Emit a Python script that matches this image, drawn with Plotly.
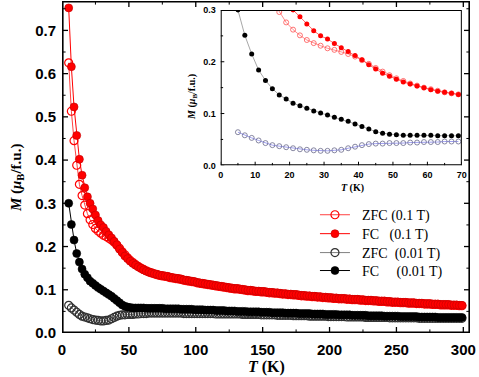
import plotly.graph_objects as go

# measurement temperatures (K)
T = [5, 7, 9, 11, 13, 15, 17, 19, 21, 23,
     25, 27, 29, 31, 33, 35, 37, 39, 41, 43,
     45, 47, 49, 51, 53, 55, 57, 59, 61, 63,
     65, 67, 69, 71, 73, 75, 77, 79, 81, 83,
     85, 87, 89, 91, 93, 95, 97, 99, 101, 103,
     105, 107, 109, 111, 113, 115, 117, 119, 121, 123,
     125, 127, 129, 131, 133, 135, 137, 139, 141, 143,
     145, 147, 149, 151, 153, 155, 157, 159, 161, 163,
     165, 167, 169, 171, 173, 175, 177, 179, 181, 183,
     185, 187, 189, 191, 193, 195, 197, 199, 201, 203,
     205, 207, 209, 211, 213, 215, 217, 219, 221, 223,
     225, 227, 229, 231, 233, 235, 237, 239, 241, 243,
     245, 247, 249, 251, 253, 255, 257, 259, 261, 263,
     265, 267, 269, 271, 273, 275, 277, 279, 281, 283,
     285, 287, 289, 291, 293, 295, 297, 299]

zfc_01 = [.625, .513, .445, .388, .344, .318, .296, .276, .262, .251,
          .242, .236, .231, .226, .223, .219, .215, .210, .203, .196,
          .188, .181, .174, .168, .163, .158, .154, .150, .147, .144,
          .141, .139, .137, .135, .133, .132, .131, .130, .128, .127,
          .126, .125, .124, .122, .121, .120, .119, .118, .116, .115,
          .114, .113, .112, .111, .110, .109, .108, .107, .106, .105,
          .104, .103, .102, .102, .101, .100, .099, .098, .098, .097,
          .096, .096, .095, .095, .094, .093, .093, .092, .092, .091,
          .090, .090, .089, .089, .088, .088, .087, .086, .086, .085,
          .085, .084, .084, .083, .083, .082, .082, .081, .081, .080,
          .080, .079, .079, .079, .078, .078, .077, .077, .077, .076,
          .076, .075, .075, .075, .074, .074, .073, .073, .073, .072,
          .072, .071, .071, .071, .070, .070, .070, .069, .069, .069,
          .068, .068, .068, .067, .067, .067, .066, .066, .066, .065,
          .065, .065, .065, .064, .064, .064, .063, .063]

fc_01 = [.752, .616, .523, .457, .402, .365, .336, .315, .300, .287,
         .273, .260, .250, .244, .235, .227, .220, .212, .204, .194,
         .186, .178, .172, .166, .161, .157, .153, .150, .146, .143,
         .141, .139, .137, .136, .134, .133, .132, .131, .129, .128,
         .127, .126, .125, .123, .122, .121, .120, .119, .117, .116,
         .115, .114, .113, .112, .111, .110, .109, .108, .107, .106,
         .105, .104, .103, .103, .102, .101, .100, .099, .099, .098,
         .097, .097, .096, .096, .095, .094, .094, .093, .093, .092,
         .091, .091, .090, .090, .089, .089, .088, .087, .087, .086,
         .086, .085, .085, .084, .084, .083, .083, .082, .082, .081,
         .081, .080, .080, .080, .079, .079, .078, .078, .078, .077,
         .077, .076, .076, .076, .075, .075, .074, .074, .074, .073,
         .073, .072, .072, .072, .071, .071, .071, .070, .070, .070,
         .069, .069, .069, .068, .068, .068, .067, .067, .067, .066,
         .066, .066, .066, .065, .065, .065, .064, .064]

zfc_001 = [.064, .058, .053, .048, .043, .039, .037, .035, .033, .031,
           .030, .029, .028, .028, .029, .030, .033, .036, .039, .041,
           .042, .042, .043, .043, .043, .044, .044, .045, .045, .045,
           .046, .046, .046, .046, .046, .046, .046, .046, .046, .046,
           .046, .046, .046, .045, .045, .045, .045, .045, .045, .045,
           .045, .045, .045, .045, .045, .044, .044, .044, .044, .044,
           .044, .044, .044, .044, .044, .043, .043, .043, .043, .043,
           .043, .043, .042, .042, .042, .042, .042, .042, .041, .041,
           .041, .041, .041, .041, .040, .040, .040, .040, .040, .040,
           .039, .039, .039, .039, .039, .039, .039, .038, .038, .038,
           .038, .038, .038, .038, .037, .037, .037, .037, .037, .037,
           .037, .036, .036, .036, .036, .036, .036, .036, .036, .036,
           .035, .035, .035, .035, .035, .035, .035, .035, .035, .035,
           .035, .034, .034, .034, .034, .034, .034, .034, .034, .034,
           .034, .034, .034, .034, .034, .034, .034, .034]

fc_001 = [.300, .251, .215, .184, .164, .148, .136, .128, .120, .115,
          .110, .105, .101, .097, .093, .089, .085, .080, .075, .070,
          .065, .062, .060, .059, .058, .058, .058, .058, .058, .057,
          .057, .057, .057, .057, .057, .057, .056, .056, .056, .056,
          .056, .056, .055, .055, .055, .055, .055, .054, .054, .054,
          .054, .053, .053, .053, .053, .052, .052, .052, .052, .051,
          .051, .051, .051, .050, .050, .050, .050, .049, .049, .049,
          .049, .049, .048, .048, .048, .048, .047, .047, .047, .047,
          .047, .046, .046, .046, .046, .046, .045, .045, .045, .045,
          .045, .044, .044, .044, .044, .044, .043, .043, .043, .043,
          .043, .042, .042, .042, .042, .042, .041, .041, .041, .041,
          .041, .041, .040, .040, .040, .040, .040, .040, .039, .039,
          .039, .039, .039, .039, .038, .038, .038, .038, .038, .038,
          .038, .037, .037, .037, .037, .037, .037, .037, .036, .036,
          .036, .036, .036, .036, .036, .036, .036, .036]

names = ["\u00a0\u00a0ZFC (0.1 T)", "\u00a0\u00a0FC\u00a0\u00a0\u00a0(0.1 T)",
         "\u00a0\u00a0ZFC\u00a0\u00a0(0.01 T)", "\u00a0\u00a0FC\u00a0\u00a0\u00a0\u00a0\u00a0(0.01 T)"]

# axis ranges and tick positions (major / minor)
main_xr, main_yr = [0, 305], [0, 0.768]
ins_xr, ins_yr = [0, 70], [0, 0.3]
main_xticks = [0, 50, 100, 150, 200, 250, 300]
main_xminor = [25, 75, 125, 175, 225, 275]
main_yticks = [0.0, 0.1, 0.2, 0.3, 0.4, 0.5, 0.6, 0.7]
main_yminor = [0.05, 0.15, 0.25, 0.35, 0.45, 0.55, 0.65, 0.75]
ins_xticks = [0, 10, 20, 30, 40, 50, 60, 70]
ins_xminor = [5, 15, 25, 35, 45, 55, 65]
ins_yticks = [0.0, 0.1, 0.2, 0.3]
ins_yminor = [0.05, 0.15, 0.25]

SERIF = "Liberation Serif"
SANS = "Liberation Sans"

fig = go.Figure()

# main panel, one legend per entry so the rows sit where the reference has them
styles = [
    (zfc_01, "#ff4040", dict(symbol="circle-open", color="#ff0000", size=8, line=dict(width=1.2))),
    (fc_01, "#ff0000", dict(symbol="circle", color="#ff0000", size=8, line=dict(width=0.6, color="#c00000"))),
    (zfc_001, "#808080", dict(symbol="circle-open", color="#303030", size=8, line=dict(width=1.2))),
    (fc_001, "#000000", dict(symbol="circle", color="#000000", size=8, line=dict(width=0.6, color="#000000"))),
]
leg_ids = ["legend", "legend2", "legend3", "legend4"]
for (vals, lc, mk), nm, lg in zip(styles, names, leg_ids):
    fig.add_trace(go.Scatter(x=T, y=vals, name=nm, mode="lines+markers", legend=lg,
                             line=dict(color=lc, width=1), marker=mk))

# inset (T <= 70 K)
n = 33
inset = [
    (zfc_01, "#ff7070", dict(symbol="circle-open", color="#ff5050", size=5, line=dict(width=0.8))),
    (fc_01, "#ff4040", dict(symbol="circle", color="#ff0000", size=5)),
    (zfc_001, "#8888ee", dict(symbol="circle-open", color="#6a6a8a", size=5, line=dict(width=0.8))),
    (fc_001, "#909090", dict(symbol="circle", color="#000000", size=5)),
]
for vals, lc, mk in inset:
    fig.add_trace(go.Scatter(x=T[:n], y=vals[:n], mode="lines+markers", showlegend=False,
                             xaxis="x2", yaxis="y2",
                             line=dict(color=lc, width=0.8), marker=mk))


# frame and tick marks drawn as clipped traces (axis lines do not show in the renderer)
def tick_marks(xs, ys, sym, size, w, xa="x", ya="y"):
    fig.add_trace(go.Scatter(x=xs, y=ys, mode="markers", showlegend=False, hoverinfo="skip",
                             xaxis=xa, yaxis=ya,
                             marker=dict(symbol=sym, size=size,
                                         line=dict(color="black", width=w))))


def frame(xr, yr, w, xa="x", ya="y"):
    fig.add_trace(go.Scatter(x=[xr[0], xr[1], xr[1], xr[0], xr[0]],
                             y=[yr[0], yr[0], yr[1], yr[1], yr[0]],
                             mode="lines", showlegend=False, hoverinfo="skip",
                             xaxis=xa, yaxis=ya, line=dict(color="black", width=w)))


px_x = (main_xr[1] - main_xr[0]) / 408
px_y = (main_yr[1] - main_yr[0]) / 332
for vals, L, w in [(main_xticks, 5, 1.3), (main_xminor, 3, 1)]:
    tick_marks(vals, [main_yr[0] + L / 2 * px_y] * len(vals), "line-ns", L, w)
    tick_marks(vals, [main_yr[1] - L / 2 * px_y] * len(vals), "line-ns", L, w)
for vals, L, w in [(main_yticks, 5, 1.3), (main_yminor, 3, 1)]:
    tick_marks([main_xr[0] + L / 2 * px_x] * len(vals), vals, "line-ew", L, w)
    tick_marks([main_xr[1] - L / 2 * px_x] * len(vals), vals, "line-ew", L, w)
frame(main_xr, main_yr, 3.2)

ipx_x = (ins_xr[1] - ins_xr[0]) / 241
ipx_y = (ins_yr[1] - ins_yr[0]) / 155
for vals, L in [(ins_xticks, 3), (ins_xminor, 2)]:
    tick_marks(vals, [ins_yr[0] + L / 2 * ipx_y] * len(vals), "line-ns", L, 1, "x2", "y2")
for vals, L in [(ins_yticks, 3), (ins_yminor, 2)]:
    tick_marks([ins_xr[0] + L / 2 * ipx_x] * len(vals), vals, "line-ew", L, 1, "x2", "y2")
frame(ins_xr, ins_yr, 2, "x2", "y2")

ax_common = dict(showline=False, showgrid=False, zeroline=False, automargin=False, ticks="")

fig.update_layout(
    template="simple_white",
    width=479, height=377,
    margin=dict(l=62, r=9, t=1, b=44),
    paper_bgcolor="white", plot_bgcolor="white",
    xaxis=dict(range=main_xr, tickvals=main_xticks, ticklabelstandoff=6,
               tickfont=dict(family=SANS, size=15, color="black", weight="bold"), **ax_common),
    yaxis=dict(range=main_yr, tickvals=main_yticks, tickformat=".1f", ticklabelstandoff=5,
               tickfont=dict(family=SANS, size=15, color="black", weight="bold"), **ax_common),
    xaxis2=dict(domain=[0.389, 0.980], anchor="y2", range=ins_xr, tickvals=ins_xticks,
                ticklabelstandoff=3,
                tickfont=dict(family=SANS, size=9, color="black", weight="bold"), **ax_common),
    yaxis2=dict(domain=[0.505, 0.973], anchor="x2", range=ins_yr, tickvals=ins_yticks,
                tickformat=".1f", ticklabelstandoff=4,
                tickfont=dict(family=SANS, size=9, color="black", weight="bold"), **ax_common),
    showlegend=True,
)

leg_font = dict(family=SERIF, size=14, color="black")
for lg, yc in zip(leg_ids, [0.355, 0.298, 0.241, 0.187]):
    fig.update_layout({lg: dict(x=0.620, y=yc, xanchor="left", yanchor="middle",
                                bgcolor="rgba(0,0,0,0)", borderwidth=0, font=leg_font)})

title_font = dict(family=SERIF, size=15, color="black", weight="bold")
fig.add_annotation(text="<i>M</i> (<i>μ</i><sub>B</sub>/f.u.)", xref="paper", yref="paper",
                   x=-0.110, y=0.467, xanchor="center", yanchor="middle",
                   textangle=-90, showarrow=False, font=title_font)
fig.add_annotation(text="<i>T</i> (K)", xref="paper", yref="paper",
                   x=0.5, y=-0.102, xanchor="center", yanchor="middle",
                   showarrow=False, font=dict(family=SERIF, size=16, color="black", weight="bold"))

inset_font = dict(family=SERIF, size=10, color="black", weight="bold")
fig.add_annotation(text="<i>M</i> (<i>μ</i><sub>B</sub>/f.u.)", xref="paper", yref="paper",
                   x=0.321, y=0.711, xanchor="center", yanchor="middle",
                   textangle=-90, showarrow=False, font=inset_font)
fig.add_annotation(text="<i>T</i> (K)", xref="paper", yref="paper",
                   x=0.711, y=0.437, xanchor="center", yanchor="middle",
                   showarrow=False, font=inset_font)

fig.write_html("out.html", config={"displayModeBar": False},
               post_script="document.body.style.margin='0';")
